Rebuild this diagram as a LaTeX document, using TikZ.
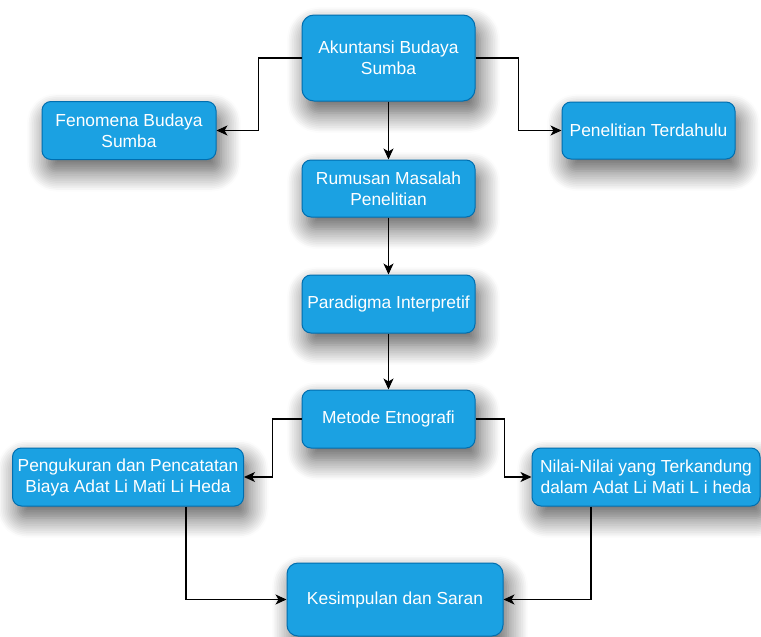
\documentclass[tikz,border=0pt]{standalone}
\usepackage{fontspec}
\setmainfont{Liberation Sans}
\usepackage{tikz}
\usetikzlibrary{positioning}
\usetikzlibrary{arrows.meta,shadows.blur}
\definecolor{boxfill}{HTML}{1BA1E2}
\definecolor{boxline}{HTML}{006EAF}

\tikzset{
  box/.style={draw=boxline, fill=boxfill, line width=1pt, rounded corners=9pt,
    text=white, align=center, inner sep=0pt,
    font=\fontsize{17.4}{21}\selectfont,
    blur shadow={shadow xshift=5pt, shadow yshift=-12pt,
      shadow blur radius=20pt, shadow blur steps=12, shadow opacity=65}},
  link/.style={->, line width=1.2pt, black}
}

\begin{document}
\begin{tikzpicture}
[x=1pt, y=-1pt, >={Stealth[length=11pt,width=10pt,inset=3pt]}]

\useasboundingbox (0,0) rectangle (761,637);

% Top row:
\node[box, minimum width=173pt, minimum height=86pt, rounded corners=12pt]
  (akun) at (388.5,58) {Akuntansi Budaya\\Sumba};
\node[box, minimum width=174pt, minimum height=58pt]
  (fenomena) at (129,130.5) {Fenomena Budaya\\Sumba};
\node[box, minimum width=173pt, minimum height=57pt]
  (terdahulu) at (648.5,130.5) {Penelitian Terdahulu};

% Middle column:
\node[box, minimum width=173pt, minimum height=57pt]
  (rumusan) at (388.5,188.5) {Rumusan Masalah\\Penelitian};
\node[box, minimum width=173pt, minimum height=58pt]
  (paradigma) at (388.5,304) {Paradigma Interpretif};
\node[box, minimum width=173pt, minimum height=58pt]
  (metode) at (388.5,419) {Metode Etnografi};

% Bottom part:
\node[box, minimum width=231pt, minimum height=58pt]
  (ukur) at (128,477) {Pengukuran dan Pencatatan\\Biaya Adat Li Mati Li Heda};
\node[box, minimum width=228pt, minimum height=58pt]
  (nilai) at (646,477) {Nilai-Nilai yang Terkandung\\dalam Adat Li Mati L i heda};
\node[box, minimum width=216pt, minimum height=73pt, rounded corners=11pt]
  (simpul) at (395,599.5) {Kesimpulan dan Saran};

% Connectors:
\draw[link] (akun.west) -- ++(-43,0) |- (fenomena);
\draw[link] (akun.east) -- ++(43,0) |- (terdahulu);
\draw[link] (akun) -- (rumusan);
\draw[link] (rumusan) -- (paradigma);
\draw[link] (paradigma) -- (metode);
\draw[link] (metode.west) -- ++(-29,0) |- (ukur);
\draw[link] (metode.east) -- ++(29,0) |- (nilai);
\draw[link] ([xshift=58pt]ukur.south) |- (simpul);
\draw[link] ([xshift=-55pt]nilai.south) |- (simpul);

\end{tikzpicture}
\end{document}
